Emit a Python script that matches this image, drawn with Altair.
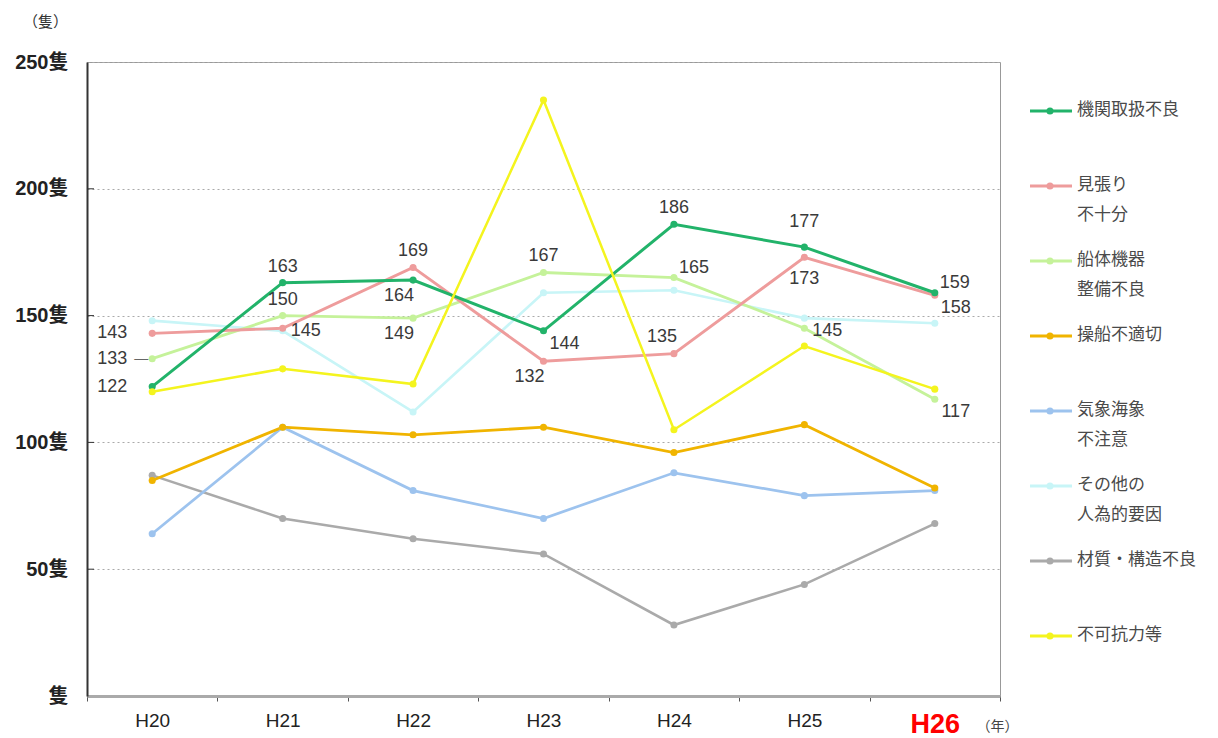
import altair as alt
import pandas as pd

years = ["H20", "H21", "H22", "H23", "H24", "H25", "H26"]
series = ["機関取扱不良", "見張り不十分", "船体機器整備不良", "操船不適切",
          "気象海象不注意", "その他の人為的要因", "材質・構造不良", "不可抗力等"]
legend_labels = ["機関取扱不良", "見張り|不十分", "船体機器|整備不良", "操船不適切",
                 "気象海象|不注意", "その他の|人為的要因", "材質・構造不良", "不可抗力等"]
colors = ["#22B36A", "#EE9C9C", "#C5F29A", "#F0B400",
          "#9DC3EE", "#C8F5F7", "#AAAAAA", "#F4F41E"]
widths = [3, 2.5, 2.5, 3.5, 2.5, 2.5, 2.5, 3]

kikan = [122, 163, 164, 144, 186, 177, 159]
mihari = [143, 145, 169, 132, 135, 173, 158]
sentai = [133, 150, 149, 167, 165, 145, 117]
sosen = [85, 106, 103, 106, 96, 107, 82]
kisho = [64, 106, 81, 70, 88, 79, 81]
sonota = [148, 144, 112, 159, 160, 149, 147]
zaishitsu = [87, 70, 62, 56, 28, 44, 68]
fuka = [120, 129, 123, 235, 105, 138, 121]

# label placement keywords for the labelled series
kikan_pos = ["left", "above", "below_left", "right_below", "above", "above_high", "right_above"]
mihari_pos = ["left", "right", "above", "below_left", "above_left", "below", "right_below"]
sentai_pos = ["left", "above", "below_left", "above", "right_above", "right", "right_below"]

y_ticks = [0, 50, 100, 150, 200, 250]

values = {
    "機関取扱不良": kikan, "見張り不十分": mihari, "船体機器整備不良": sentai,
    "操船不適切": sosen, "気象海象不注意": kisho, "その他の人為的要因": sonota,
    "材質・構造不良": zaishitsu, "不可抗力等": fuka,
}
draw_order = ["材質・構造不良", "気象海象不注意", "その他の人為的要因", "船体機器整備不良",
              "見張り不十分", "操船不適切", "機関取扱不良", "不可抗力等"]

rows = []
for s in draw_order:
    for y, v in zip(years, values[s]):
        rows.append({"series": s, "year": y, "value": v})
df = pd.DataFrame(rows)

lab_rows = []
for s, pos in [("機関取扱不良", kikan_pos), ("見張り不十分", mihari_pos), ("船体機器整備不良", sentai_pos)]:
    for y, v, p in zip(years, values[s], pos):
        lab_rows.append({"series": s, "year": y, "value": v, "pos": p})
ldf = pd.DataFrame(lab_rows)

offsets = {
    "left": (-40, 0), "above": (0, -16), "above_high": (0, -25),
    "above_left": (-12, -17), "right_above": (20, -10), "below": (0, 22),
    "below_left": (-14, 16), "right": (23, 3), "right_below": (21, 13),
}

FONT = "Liberation Sans, Noto Sans CJK JP"
JFONT = "Noto Sans CJK JP"

xenc = alt.X("year:N", bandPosition=0.5,
             scale=alt.Scale(type="band", domain=years, paddingInner=0, paddingOuter=0),
             axis=alt.Axis(title="（年）", titleX=910, titleY=30, titleBaseline="middle",
                           titleAlign="center", titleFont=JFONT, titleFontSize=14,
                           titleFontWeight="normal", titleColor="#444",
                           labelAngle=0, labelFont=FONT, labelPadding=10,
                           labelFontSize=alt.condition("datum.value == 'H26'", alt.value(27), alt.value(19)),
                           labelColor=alt.condition("datum.value == 'H26'", alt.value("#FF0000"), alt.value("#222222")),
                           labelFontWeight=alt.condition("datum.value == 'H26'", alt.value("bold"), alt.value("normal")),
                           tickBand="extent", tickSize=5, tickColor="#555", tickWidth=1,
                           domainColor="#AAAAAA", domainWidth=3, grid=False))
yscale = alt.Scale(domain=[0, 250], nice=False)
yenc = alt.Y("value:Q", scale=yscale,
             axis=alt.Axis(values=y_ticks, title="（隻）", titleAngle=0, titleX=-42, titleY=-41,
                           titleAlign="center", titleBaseline="middle", titleFont=JFONT,
                           titleFontSize=15, titleFontWeight="normal", titleColor="#333",
                           labelExpr="datum.value == 0 ? '隻' : datum.value + '隻'",
                           labelFont=FONT, labelFontSize=20, labelFontWeight="bold",
                           labelColor="#222", labelPadding=19, ticks=False,
                           domainColor="#333", domainWidth=2,
                           grid=True, gridDash=[2, 3], gridColor="#AAAAAA", gridWidth=1,
                           minExtent=73, maxExtent=73))

color = alt.Color("series:N", scale=alt.Scale(domain=series, range=colors), legend=None)
swidth = alt.StrokeWidth("series:N", scale=alt.Scale(domain=series, range=widths), legend=None)

base = alt.Chart(df)
lines = base.mark_line().encode(x=xenc, y=yenc, color=color, strokeWidth=swidth,
                                detail="series:N")
points = base.mark_circle(size=50, opacity=1).encode(x=xenc, y=yenc, color=color)

tick_df = pd.DataFrame({"v": [t for t in y_ticks if 0 < t < 250]})
inner_ticks = alt.Chart(tick_df).mark_rule(color="#333", strokeWidth=1).encode(
    y=alt.Y("v:Q", scale=yscale), x=alt.value(0), x2=alt.value(7))

label_layers = []
for p, (dx, dy) in offsets.items():
    label_layers.append(
        alt.Chart(ldf).transform_filter(alt.datum.pos == p).mark_text(
            dx=dx, dy=dy, font=FONT, fontSize=18, color="#3a3a3a", baseline="middle"
        ).encode(x=xenc, y=yenc, text="value:Q"))
leader = alt.Chart(ldf).transform_filter(
    (alt.datum.series == "船体機器整備不良") & (alt.datum.year == "H20")
).mark_text(dx=-11, dy=0, font=FONT, fontSize=14, color="#666", text="—").encode(x=xenc, y=yenc)

main = alt.layer(inner_ticks, lines, points, *label_layers, leader).properties(
    width=913, height=634, view=alt.ViewBackground(stroke="#999999", strokeWidth=1))

leg_df = pd.DataFrame({"series": series, "label": legend_labels})
ly = alt.Y("series:N", scale=alt.Scale(type="point", domain=series, range=[49, 574], padding=0),
           axis=None)
lcolor = alt.Color("series:N", scale=alt.Scale(domain=series, range=colors), legend=None)
leg_base = alt.Chart(leg_df)
leg_line = leg_base.mark_rule(strokeWidth=3).encode(y=ly, x=alt.value(0), x2=alt.value(42), color=lcolor)
leg_pt = leg_base.mark_circle(size=50, opacity=1).encode(y=ly, x=alt.value(20), color=lcolor)
leg_txt = leg_base.mark_text(align="left", baseline="top", dy=-9, lineBreak="|", lineHeight=30,
                             font=JFONT, fontSize=17, color="#4a4a4a").encode(
    y=ly, x=alt.value(47), text="label:N")
legend = alt.layer(leg_line, leg_pt, leg_txt).properties(
    width=160, height=634, view=alt.ViewBackground(strokeWidth=0))

chart = alt.hconcat(main, legend, spacing=30, bounds="flush").configure_view(
    strokeWidth=0
)

chart.save("out.html", embed_options={"renderer": "svg", "actions": False})
